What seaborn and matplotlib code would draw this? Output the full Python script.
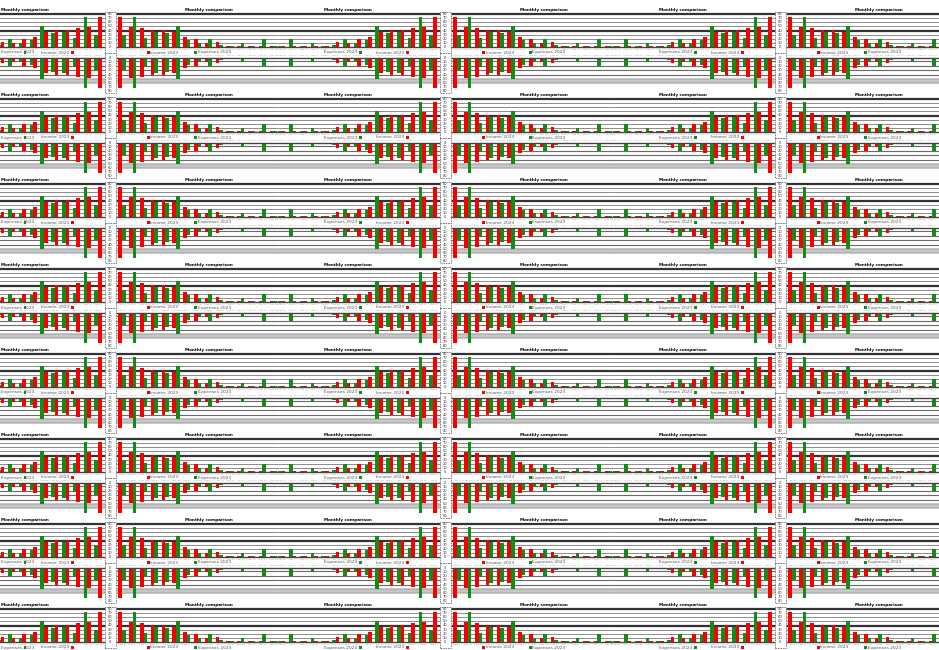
import numpy as np
import pandas as pd
import matplotlib
matplotlib.use("Agg")
import matplotlib.pyplot as plt
import matplotlib.transforms as mtransforms
from matplotlib.patches import Rectangle
import seaborn as sns

# ---------------- data ----------------
categories = ["Item 01", "Item 02", "Item 03", "Item 04", "Item 05", "Item 06", "Item 07",
              "Item 08", "Item 09", "Item 10", "Item 11", "Item 12", "Item 13", "Item 14", "Item 15"]
series_names = ["Income 2023", "Expenses 2023"]
red_values = [73, 49, 45, 42, 42, 36, 24, 20, 10, 12, 3, 3, 2, 2, 2]
green_values = [29, 73, 23, 36, 34, 52, 16, 10, 20, 4, 3, 10, 2, 20, 2]
y_ticks = [0, 10, 20, 30, 40, 50, 60, 70, 80]
lower_grid = [8, 20, 29, 41, 51, 58]
title_text = "Monthly comparison"
colors = ["#f50000", "#168a16"]

df = pd.DataFrame({
    "category": categories * 2,
    "series": [series_names[0]] * len(categories) + [series_names[1]] * len(categories),
    "value": red_values + green_values,
})

# ---------------- geometry (pixels) ----------------
W, H = 939, 650
TILE_W, TILE_H = 167.5, 42.5
X0, Y0 = -57.5, 10.0
NCOLS, NROWS = 6, 15
GROUP_PX = 10.8        # pixels per category
FIRST_PX = 12.0        # first group offset from box line
Y_PX = 33.0 / 80.0     # pixels per value unit
BASE_OFF = 37.0        # baseline offset from title edge

x_near = -FIRST_PX / GROUP_PX
x_far = (TILE_W - FIRST_PX) / GROUP_PX
y_top = BASE_OFF / Y_PX
y_bot = -(TILE_H - BASE_OFF) / Y_PX

sns.set_theme(style="white")
fig = plt.figure(figsize=(W / 100, H / 100), dpi=100)
fig.patch.set_facecolor("white")
renderer = fig.canvas.get_renderer()


def fit_text(ax, x_px, y, s, ha, transform, **kw):
    """Place text; if it would run off the figure, slide it inside."""
    t = ax.text(0, y, s, transform=transform, ha="left", va="center", clip_on=False, **kw)
    w = t.get_window_extent(renderer).width
    left = x_px - (w if ha == "right" else 0)
    left = min(max(left, 1), W - w - 1)
    disp_x = left
    # convert pixel x to axes fraction
    bb = ax.get_position()
    ax_left_px = bb.x0 * W
    t.set_x((disp_x - ax_left_px) / (bb.width * W))
    return t


def draw_tile(col, row):
    L = X0 + col * TILE_W
    T = Y0 + row * TILE_H
    mirror_x = (col % 2 == 0)     # box on the right side
    flip_y = (row % 2 == 1)       # bars pointing down
    ax = fig.add_axes([L / W, 1 - (T + TILE_H) / H, TILE_W / W, TILE_H / H])
    ax.set_facecolor("none")
    sns.barplot(data=df, x="category", y="value", hue="series", order=categories,
                hue_order=series_names, palette=colors, width=0.66, saturation=1,
                legend=False, ax=ax, errorbar=None, linewidth=0, zorder=3)
    if mirror_x:
        ax.set_xlim(x_far, x_near)
    else:
        ax.set_xlim(x_near, x_far)
    if flip_y:
        ax.set_ylim(y_top, y_bot)
        for v in lower_grid:
            if v >= 51:
                ax.axhline(v, color="#b4b4b4", lw=1.8, zorder=1)
            else:
                ax.axhline(v, color="#6a6a6a", lw=0.8, zorder=1)
        ax.axhline(0, color="#444444", lw=1.0, zorder=4)
    else:
        ax.set_ylim(y_bot, y_top)
        for v in y_ticks:
            if v in (40, 80):
                ax.axhline(v, color="#333333", lw=1.6, zorder=1)
            elif v == 0:
                ax.axhline(v, color="#444444", lw=1.0, zorder=4)
            else:
                ax.axhline(v, color="#8c8c8c", lw=0.7, zorder=1)
    ax.set_xticks([])
    ax.set_yticks([])
    ax.set_xlabel("")
    ax.set_ylabel("")
    for s in ax.spines.values():
        s.set_visible(False)

    # category labels under the bars (only where they fit in the picture)
    for i, c in enumerate(categories):
        px = (L + TILE_W - FIRST_PX - GROUP_PX * i) if mirror_x else (L + FIRST_PX + GROUP_PX * i)
        if 6 < px < W - 6:
            ax.text(i, -5.5, c, fontsize=1.6, color="#9a9a9a", ha="center", va="center", zorder=5)

    blend = mtransforms.blended_transform_factory(ax.transAxes, ax.transData)
    # y-axis box with tick labels (only drawn by tiles with the box on the left)
    if not mirror_x:
        half = 5.5 / TILE_W
        ax.add_patch(Rectangle((-half, y_bot), 2 * half, 85 - y_bot, transform=blend,
                               facecolor="white", edgecolor="#777777", lw=0.6, ls=(0, (2, 1)),
                               clip_on=False, zorder=6))
        for v in y_ticks:
            ax.text(0, v, f"{v}", transform=blend, fontsize=2.6, color="#333333",
                    ha="center", va="center", clip_on=False, zorder=7)

    if not flip_y:
        # title
        if mirror_x:
            fit_text(ax, L + TILE_W - 73, 1.0, title_text, "right", blend_title(ax),
                     fontsize=3.0, fontweight="bold", color="#000000")
        else:
            fit_text(ax, L + 75, 1.0, title_text, "left", blend_title(ax),
                     fontsize=3.0, fontweight="bold", color="#000000")
        # legend
        sq_w, sq_h = 3 / TILE_W, 3 / TILE_H
        for name, colr, off in [(series_names[0], colors[0], 38), (series_names[1], colors[1], 85)]:
            if mirror_x:
                xs_px = L + TILE_W - off
                xs = 1 - off / TILE_W
                ax.add_patch(Rectangle((xs - sq_w / 2, -sq_h / 2), sq_w, sq_h, transform=ax.transAxes,
                                       facecolor=colr, lw=0, clip_on=False, zorder=6))
                fit_text(ax, xs_px - 2.5, 0, name, "right", ax.transAxes,
                         fontsize=3.2, color="#555555")
            else:
                xs_px = L + off
                xs = off / TILE_W
                ax.add_patch(Rectangle((xs - sq_w / 2, -sq_h / 2), sq_w, sq_h, transform=ax.transAxes,
                                       facecolor=colr, lw=0, clip_on=False, zorder=6))
                fit_text(ax, xs_px + 2.5, 0, name, "left", ax.transAxes,
                         fontsize=3.2, color="#555555")
    return ax


def blend_title(ax):
    return ax.transAxes


# mirrored tiles first, so the boxes of normal tiles sit on top
for row in range(NROWS):
    for col in range(0, NCOLS, 2):
        draw_tile(col, row)
for row in range(NROWS):
    for col in range(1, NCOLS, 2):
        draw_tile(col, row)

fig.savefig("out.png", dpi=100)
